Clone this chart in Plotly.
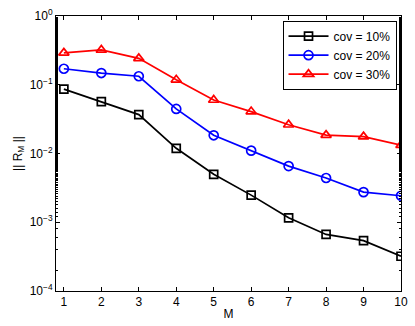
import plotly.graph_objects as go

M = [1, 2, 3, 4, 5, 6, 7, 8, 9, 10]
cov10 = [0.0865, 0.057, 0.0368, 0.0119, 0.00498, 0.00248, 0.00116, 0.000665, 0.00054, 0.00032]
cov20 = [0.171, 0.148, 0.133, 0.0445, 0.0184, 0.011, 0.00656, 0.0044, 0.00274, 0.00243]
cov30 = [0.291, 0.321, 0.242, 0.118, 0.060, 0.0407, 0.0262, 0.0185, 0.0176, 0.0132]
names = ["cov = 10%", "cov = 20%", "cov = 30%"]
colors = ["#000000", "#0000ff", "#ff0000"]
symbols = ["square-open", "circle-open", "triangle-up-open"]
ytickvals = [1e-4, 1e-3, 1e-2, 1e-1, 1]
yticktext = ["10<sup>−4</sup>", "10<sup>−3</sup>", "10<sup>−2</sup>", "10<sup>−1</sup>", "10<sup>0</sup>"]

FONT = "Liberation Sans, Arial"

fig = go.Figure()
for ys, name, c, s in zip([cov10, cov20, cov30], names, colors, symbols):
    fig.add_trace(go.Scatter(
        x=M, y=ys, name=name, mode="lines+markers",
        line=dict(color=c, width=1.7),
        marker=dict(symbol=s, size=9 if s != "square-open" else 8, color=c,
                    line=dict(color=c, width=1.7)),
    ))

axis_common = dict(
    showline=True, linecolor="black", linewidth=1, mirror="ticks",
    ticks="inside", ticklen=4, tickcolor="black", showgrid=False, zeroline=False,
    tickfont=dict(family=FONT, size=12, color="black"),
)
fig.update_xaxes(range=[0.79, 10], tickvals=M,
                 title=dict(text="M", standoff=1,
                            font=dict(family=FONT, size=12, color="black")),
                 **axis_common)
fig.update_yaxes(type="log", range=[-4, 0], tickvals=ytickvals, ticktext=yticktext,
                 minor=dict(ticks="inside", ticklen=2, tickcolor="black"),
                 title=dict(text="|| R<sub>M</sub> ||", standoff=4,
                            font=dict(family=FONT, size=12, color="black")),
                 **axis_common)

fig.update_layout(
    width=415, height=326,
    margin=dict(l=56, r=7, t=14, b=34),
    plot_bgcolor="white", paper_bgcolor="white",
    legend=dict(x=0.987, y=0.983, xanchor="right", yanchor="top",
                bgcolor="white", bordercolor="black", borderwidth=1,
                font=dict(family=FONT, size=12, color="black"),
                tracegroupgap=0, itemwidth=40),
)

fig.write_html("out.html")
